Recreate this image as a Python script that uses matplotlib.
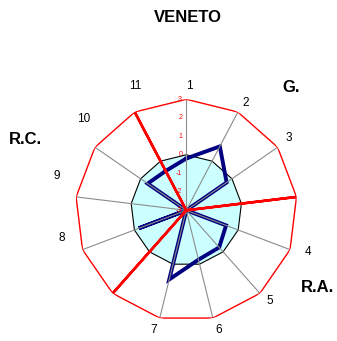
import numpy as np
import matplotlib
matplotlib.use("Agg")
import matplotlib.pyplot as plt
from matplotlib.transforms import ScaledTranslation

plt.rcParams['font.family'] = ['Liberation Sans', 'DejaVu Sans']

# ---- data ----
categories = ['1', '2', '3', '', '4', '5', '6', '7', '', '8', '9', '10', '11']
veneto = [-0.2, 0.9, -0.35, -3, -0.7, -0.32, -0.25, 0.85, -3, -0.26, -3, -0.46, -0.6]
separators = [-3, -3, -3, 3, -3, -3, -3, -3, 3, -3, -3, -3, 3]
reference = [0] * 13
r_ticks = [3, 2, 1, 0, -1, -2, -3]
title = 'VENETO'
groups = ['G.', 'R.A.', 'R.C.']

# ---- layout (label placement, degrees clockwise from top / radius in r units) ----
label_angle = [1.4, 29.2, 54.7, 83.1, 108.8, 137.3, 164.7, 195.4, 221.5,
               257.3, 284.8, 311.6, 337.9]
label_radius = [3.74, 3.62, 3.80, 3.8, 3.94, 3.67, 3.71, 3.71, 3.8,
                3.90, 4.25, 4.44, 4.27]

n = len(categories)
theta = np.arange(n) * 2 * np.pi / n
theta_c = np.append(theta, theta[0])

def close(v):
    return np.append(v, v[0])

fig = plt.figure(figsize=(3.37, 3.41), dpi=100)
ax = fig.add_axes([0.2234, 0.0578, 0.6588, 0.651], projection='polar')
ax.set_theta_zero_location('N')
ax.set_theta_direction(-1)
ax.set_ylim(-3, 3)
ax.spines['polar'].set_visible(False)
ax.set_facecolor('none')
ax.set_axisbelow(False)

# spokes
ax.set_xticks(theta)
ax.set_xticklabels([])
ax.xaxis.grid(True, color='#8c8c8c', lw=0.8)
ax.yaxis.grid(False)
ax.set_yticks([])

# outer frame polygon
ax.plot(theta_c, close([3] * n), color='#ff0000', lw=1.0, zorder=3)

# reference filled area
ax.fill(theta_c, close(reference), facecolor='#ccffff', edgecolor='black',
        lw=0.8, zorder=1)

# data series
ax.plot(theta_c, close(veneto), color='#000080', lw=2.8, zorder=2,
        solid_joinstyle='miter')

# separators
ax.plot(theta_c, close(separators), color='#ff0000', lw=1.8, zorder=3)

# radial tick labels
off = ScaledTranslation(-3 / 72, 0, fig.dpi_scale_trans)
for t in r_ticks:
    ax.text(0, t, str(t), color='#ff0000', fontsize=5, ha='right',
            va='center', transform=ax.transData + off, zorder=4)

# category labels
for lab, a, r in zip(categories, label_angle, label_radius):
    ax.text(np.deg2rad(a), r, lab, fontsize=8.5, ha='center', va='center')

fig.text(188 / 337, 1 - 17 / 341, title, fontsize=12, fontweight='bold',
         ha='center', va='center')
fig.text(291.5 / 337, 1 - 88 / 341, groups[0], fontsize=12, fontweight='bold',
         ha='center', va='center')
fig.text(317.5 / 337, 1 - 288 / 341, groups[1], fontsize=12, fontweight='bold',
         ha='center', va='center')
fig.text(25 / 337, 1 - 139 / 341, groups[2], fontsize=12, fontweight='bold',
         ha='center', va='center')

fig.savefig('out.png', dpi=100)
